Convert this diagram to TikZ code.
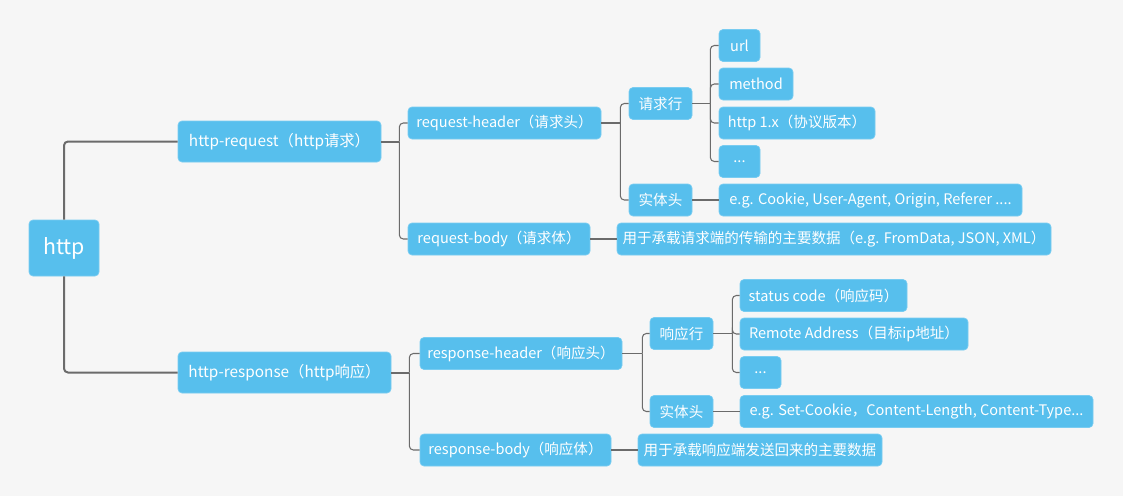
\documentclass[tikz,border=0pt]{standalone}
\usepackage{fontspec}
\setmainfont{Noto Sans CJK SC}
\definecolor{boxblue}{HTML}{57BFED}
\definecolor{linegray}{HTML}{6B6B6B}
\definecolor{bggray}{HTML}{F6F6F6}

\begin{document}
\begin{tikzpicture}[x=0.75pt,y=-0.75pt,
    topic/.style={fill=boxblue, draw=boxblue!80!white, line width=0.5pt, rounded corners=3pt,
      text=white, inner xsep=3pt, inner ysep=0pt, minimum height=24pt,
      font=\fontsize{10.9}{12}\selectfont},
    main/.style={topic, minimum height=30.75pt, font=\fontsize{11.5}{13}\selectfont},
    root/.style={topic, minimum height=42pt, font=\fontsize{16}{18}\selectfont},
    wd/.style={minimum width=#1*0.75pt},
    link/.style={draw=linegray, line width=0.8pt, rounded corners=3pt},
    trunk/.style={link, line width=1.5pt}]
  \fill[bggray] (0,0) rectangle (1123,496);
  \useasboundingbox (0,0) rectangle (1123,496);

  \node[root, wd=70] (http) at (64,248) {http};
  \node[main, wd=203] (hreq) at (279.5,141.5) {http-request（http请求）};
  \node[main, wd=213] (hres) at (284.5,372.5) {http-response（http响应）};

  \node[topic, wd=193] (rh) at (504.5,123) {request-header（请求头）};
  \node[topic, wd=182] (rb) at (499,239) {request-body（请求体）};
  \node[topic, wd=63] (reqline) at (660.5,103.5) {请求行};
  \node[topic, wd=63] (reqent) at (660.5,200) {实体头};
  \node[topic, wd=41] (url) at (739.5,45.5) {url};
  \node[topic, wd=74] (method) at (756,84) {method};
  \node[topic, wd=156] (ver) at (797,123) {http 1.x（协议版本）};
  \node[topic, wd=41] (reqdots) at (739.5,161.5) {...};
  \node[topic, wd=303] (reqhd) at (870.5,200) {e.g. Cookie, User-Agent, Origin, Referer ....};
  \node[topic, wd=434] (reqdata) at (834,239) {用于承载请求端的传输的主要数据（e.g. FromData, JSON, XML）};

  \node[topic, wd=202] (rsh) at (521,353.5) {response-header（响应头）};
  \node[topic, wd=191] (rsb) at (515.5,450) {response-body（响应体）};
  \node[topic, wd=63] (resline) at (681.5,333.5) {响应行};
  \node[topic, wd=63] (resent) at (681.5,411.5) {实体头};
  \node[topic, wd=167] (status) at (823.5,295.5) {status code（响应码）};
  \node[topic, wd=228] (remote) at (854,334) {Remote Address（目标ip地址）};
  \node[topic, wd=41] (resdots) at (760.5,372.5) {...};
  \node[topic, wd=353] (reshd) at (916.5,411.5) {e.g. Set-Cookie，Content-Length, Content-Type...};
  \node[topic, wd=244] (resdata) at (760,450) {用于承载响应端发送回来的主要数据};

  % request side
  \draw[trunk] (http.north) |- (hreq.west);
  \draw[trunk] (hreq.east) -- ++(18,0) coordinate (j1);
  \foreach \c in {rh,rb} \draw[link] (j1) |- (\c.west);
  \draw[link] (rh.east) -- ++(19,0) coordinate (j2);
  \foreach \c in {reqline,reqent} \draw[link] (j2) |- (\c.west);
  \draw[link] (reqline.east) -- ++(18,0) coordinate (j3);
  \foreach \c in {url,method,ver,reqdots} \draw[link] (j3) |- (\c.west);
  \draw[link] (reqent) -- (reqhd);
  \draw[link] (rb) -- (reqdata);

  % response side
  \draw[trunk] (http.south) |- (hres.west);
  \draw[trunk] (hres.east) -- ++(18,0) coordinate (j4);
  \foreach \c in {rsh,rsb} \draw[link] (j4) |- (\c.west);
  \draw[link] (rsh.east) -- ++(20,0) coordinate (j5);
  \foreach \c in {resline,resent} \draw[link] (j5) |- (\c.west);
  \draw[link] (resline.east) -- ++(19,0) coordinate (j6);
  \foreach \c in {status,remote,resdots} \draw[link] (j6) |- (\c.west);
  \draw[link] (resent) -- (reshd);
  \draw[link] (rsb) -- (resdata);
\end{tikzpicture}
\end{document}
